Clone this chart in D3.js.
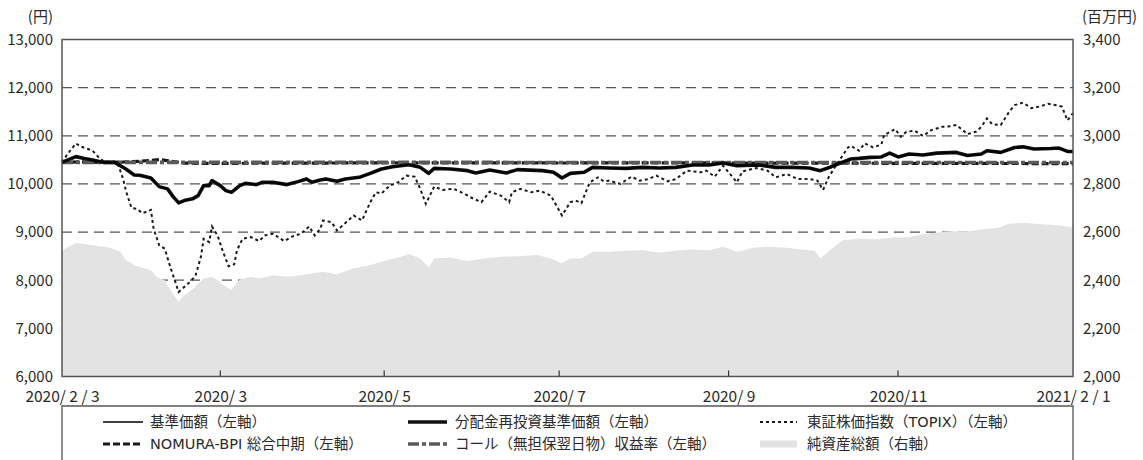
<!DOCTYPE html>
<html><head><meta charset="utf-8">
<script src="https://cdn.jsdelivr.net/npm/d3@7"></script>
<style>
html,body{margin:0;padding:0;background:#fff;}
text{font-family:"Noto Sans CJK JP","Noto Sans",sans-serif;fill:#2a2a2a;}
.lgt{font-family:"DejaVu Sans","Noto Sans CJK JP",sans-serif;}
</style></head>
<body><svg id="c" width="1143" height="460"></svg>
<script>
// ---- data ----
const leftTicks = [6000,7000,8000,9000,10000,11000,12000,13000];
const rightTicks = [2000,2200,2400,2600,2800,3000,3200,3400];
const gridValues = [7000,8000,9000,10000,11000,12000];
const xTickDates = ["2020-02-03","2020-03-31","2020-05-29","2020-07-31","2020-09-30","2020-11-30","2021-02-01"];
const xTickLabels = ["2020/ 2 / 3","2020/ 3","2020/ 5","2020/ 7","2020/ 9","2020/11","2021/ 2 / 1"];

const fundDates = ["2020-02-03","2020-02-08","2020-02-11","2020-02-14","2020-02-18","2020-02-22","2020-02-26","2020-02-29",
"2020-03-02","2020-03-06","2020-03-09","2020-03-12","2020-03-14","2020-03-16","2020-03-18","2020-03-21","2020-03-23","2020-03-25","2020-03-27","2020-03-28","2020-03-31",
"2020-04-02","2020-04-04","2020-04-07","2020-04-09","2020-04-13","2020-04-15","2020-04-19","2020-04-24","2020-04-28",
"2020-05-01","2020-05-03","2020-05-06","2020-05-08","2020-05-12","2020-05-15","2020-05-20","2020-05-24","2020-05-28",
"2020-06-01","2020-06-07","2020-06-11","2020-06-14","2020-06-16","2020-06-22","2020-06-28",
"2020-07-01","2020-07-06","2020-07-12","2020-07-16","2020-07-25","2020-07-29",
"2020-08-01","2020-08-04","2020-08-09","2020-08-12","2020-08-18","2020-08-24","2020-08-30",
"2020-09-05","2020-09-11","2020-09-17","2020-09-23","2020-09-28",
"2020-10-03","2020-10-11","2020-10-17","2020-10-23","2020-10-29",
"2020-11-02","2020-11-06","2020-11-09","2020-11-13","2020-11-16","2020-11-20","2020-11-24","2020-11-27","2020-11-30",
"2020-12-04","2020-12-09","2020-12-14","2020-12-21","2020-12-25","2020-12-30",
"2021-01-01","2021-01-06","2021-01-11","2021-01-14","2021-01-18","2021-01-24","2021-01-27","2021-01-30","2021-02-01"];
const fundValues = [10447,10567,10530,10497,10447,10447,10310,10186,
10180,10124,9944,9897,9737,9607,9654,9690,9758,9965,9965,10068,9965,
9861,9826,9965,10012,9986,10033,10033,9986,10048,
10104,10033,10083,10104,10054,10104,10137,10220,10310,
10358,10400,10344,10220,10323,10310,10276,
10228,10290,10228,10297,10276,10241,
10124,10220,10241,10344,10330,10323,10344,
10330,10344,10393,10393,10434,
10379,10393,10344,10344,10331,
10276,10358,10427,10518,10530,10552,10560,10640,10560,
10621,10600,10640,10655,10590,10621,
10690,10655,10758,10770,10724,10735,10745,10675,10675];
const reinvestValues = fundValues; // no distributions: identical to 基準価額

const topixDates = ["2020-02-03","2020-02-05","2020-02-08","2020-02-10","2020-02-14","2020-02-16","2020-02-18","2020-02-23","2020-02-25","2020-02-26","2020-02-28",
"2020-03-01","2020-03-03","2020-03-06","2020-03-07","2020-03-09","2020-03-11","2020-03-13","2020-03-16","2020-03-18","2020-03-20","2020-03-22","2020-03-24","2020-03-25","2020-03-27","2020-03-28","2020-03-30",
"2020-04-01","2020-04-03","2020-04-05","2020-04-06","2020-04-08","2020-04-11","2020-04-14","2020-04-16","2020-04-19","2020-04-23","2020-04-26","2020-04-29",
"2020-05-02","2020-05-04","2020-05-06","2020-05-07","2020-05-10","2020-05-12","2020-05-14","2020-05-18","2020-05-21","2020-05-24","2020-05-26","2020-05-28","2020-05-31",
"2020-06-03","2020-06-06","2020-06-09","2020-06-11","2020-06-13","2020-06-16","2020-06-19","2020-06-23","2020-06-27","2020-06-29",
"2020-07-03","2020-07-06","2020-07-10","2020-07-13","2020-07-14","2020-07-17","2020-07-21","2020-07-24","2020-07-28","2020-07-30",
"2020-08-01","2020-08-04","2020-08-06","2020-08-08","2020-08-11","2020-08-14","2020-08-16","2020-08-18","2020-08-22","2020-08-26","2020-08-29",
"2020-09-01","2020-09-04","2020-09-08","2020-09-11","2020-09-15","2020-09-20","2020-09-22","2020-09-25","2020-09-28",
"2020-10-01","2020-10-03","2020-10-05","2020-10-10","2020-10-14","2020-10-17","2020-10-21","2020-10-25","2020-10-29",
"2020-11-01","2020-11-03","2020-11-05","2020-11-08","2020-11-12","2020-11-13","2020-11-16","2020-11-18","2020-11-21","2020-11-24","2020-11-25","2020-11-29",
"2020-12-01","2020-12-03","2020-12-06","2020-12-09","2020-12-12","2020-12-16","2020-12-19","2020-12-21","2020-12-25","2020-12-28","2020-12-30",
"2021-01-01","2021-01-03","2021-01-06","2021-01-09","2021-01-11","2021-01-14","2021-01-17","2021-01-20","2021-01-23","2021-01-26","2021-01-28","2021-01-30","2021-02-01"];
const topixValues = [10447,10621,10840,10772,10690,10565,10468,10435,10104,9861,9503,
9482,9390,9461,9068,8723,8654,8274,7757,7860,7964,8082,8481,8861,8792,9117,8930,
8585,8289,8330,8620,8861,8896,8813,8930,8965,8813,8910,8965,
9117,8930,9068,9241,9206,9034,9137,9344,9241,9620,9827,9800,9965,
10033,10172,10150,9897,9586,9944,9876,9897,9793,9724,
9620,9841,9758,9620,9827,9897,9827,9861,9758,9551,
9344,9620,9655,9600,10033,10137,10054,10068,10000,10151,10068,
10100,10172,10054,10100,10276,10241,10276,10151,10379,
10172,10033,10262,10330,10276,10137,10206,10100,10104,
10068,9876,10137,10414,10758,10793,10690,10843,10758,10820,11015,11139,
10980,11084,11105,10995,11118,11187,11200,11225,11035,11084,11187,
11360,11235,11225,11497,11636,11690,11574,11608,11663,11636,11608,11319,11470];

const bpiDates = ["2020-02-03","2020-02-10","2020-02-18","2020-02-25","2020-03-02","2020-03-06","2020-03-09","2020-03-13","2020-03-18","2020-03-25","2020-04-10","2020-05-01","2020-06-01","2020-07-01","2020-08-01","2020-09-01","2020-10-01","2020-11-01","2020-12-01","2021-01-04","2021-02-01"];
const bpiValues = [10447,10460,10447,10455,10470,10490,10505,10475,10432,10425,10430,10432,10440,10437,10435,10437,10435,10432,10428,10425,10422];

const callDates = ["2020-02-03","2020-06-01","2020-10-01","2021-02-01"];
const callValues = [10447,10447,10446,10446];

const navDates = ["2020-02-03","2020-02-08","2020-02-14","2020-02-20","2020-02-24","2020-02-26",
"2020-03-01","2020-03-06","2020-03-08","2020-03-11","2020-03-13","2020-03-16","2020-03-18","2020-03-21","2020-03-25","2020-03-28","2020-03-30",
"2020-04-01","2020-04-04","2020-04-07","2020-04-11","2020-04-14","2020-04-19","2020-04-24","2020-04-29",
"2020-05-03","2020-05-07","2020-05-12","2020-05-18","2020-05-24","2020-05-30",
"2020-06-04","2020-06-07","2020-06-11","2020-06-14","2020-06-16","2020-06-22","2020-06-28",
"2020-07-04","2020-07-10","2020-07-16","2020-07-23","2020-07-28",
"2020-08-01","2020-08-04","2020-08-08","2020-08-12","2020-08-18","2020-08-24","2020-08-30",
"2020-09-05","2020-09-11","2020-09-17","2020-09-23","2020-09-28",
"2020-10-03","2020-10-09","2020-10-14","2020-10-21","2020-10-26","2020-10-31",
"2020-11-02","2020-11-06","2020-11-10","2020-11-16","2020-11-22","2020-11-28",
"2020-12-04","2020-12-10","2020-12-19","2020-12-25","2020-12-31",
"2021-01-05","2021-01-09","2021-01-15","2021-01-21","2021-01-27","2021-02-01"];
const navValues = [2525,2555,2545,2536,2518,2483,
2458,2442,2414,2400,2359,2310,2338,2362,2407,2414,2400,
2380,2359,2403,2414,2407,2421,2414,2421,
2428,2435,2425,2449,2463,2483,
2497,2508,2490,2453,2490,2494,2480,
2490,2497,2500,2505,2490,
2470,2490,2490,2518,2518,2522,2525,
2515,2522,2528,2525,2539,
2518,2535,2539,2535,2528,2522,
2490,2530,2566,2573,2569,2577,
2580,2593,2603,2603,2612,
2617,2635,2638,2632,2628,2619];

const legendLabels = ["基準価額（左軸）","分配金再投資基準価額（左軸）","東証株価指数（TOPIX）（左軸）","NOMURA-BPI 総合中期（左軸）","コール（無担保翌日物）収益率（左軸）","純資産総額（右軸）"];

// ---- chart ----
const parse = d3.timeParse("%Y-%m-%d");
const svg = d3.select("#c");
const L = 62, R = 1073, T = 39.5, B = 376.5;
const x = d3.scaleTime().domain([parse("2020-02-03"), parse("2021-02-01")]).range([L, R]);
const yL = d3.scaleLinear().domain([6000, 13000]).range([B, T]);
const yR = d3.scaleLinear().domain([2000, 3400]).range([B, T]);
const fmt = d3.format(",");

// gridlines
svg.append("g").selectAll("line").data(gridValues).join("line")
  .attr("x1", L).attr("x2", R).attr("y1", d => yL(d)).attr("y2", d => yL(d))
  .attr("stroke", "#555").attr("stroke-width", 1.3).attr("stroke-dasharray", "10,6");

// area
const nav = navDates.map((d, i) => ({d: parse(d), v: navValues[i]}));
svg.append("path").datum(nav)
  .attr("d", d3.area().x(p => x(p.d)).y0(B).y1(p => yR(p.v)))
  .attr("fill", "#e3e3e3");

function series(dates, vals){ return dates.map((d,i)=>({d: parse(d), v: vals[i]})); }
const lineGen = d3.line().x(p => x(p.d)).y(p => yL(p.v));

svg.append("path").datum(series(bpiDates, bpiValues)).attr("d", lineGen)
  .attr("fill","none").attr("stroke","#1a1a1a").attr("stroke-width",3.2).attr("stroke-dasharray","7,3");
svg.append("path").datum(series(callDates, callValues)).attr("d", lineGen)
  .attr("fill","none").attr("stroke","#5a5a5a").attr("stroke-width",3.6).attr("stroke-dasharray","11,3,4,3");
svg.append("path").datum(series(topixDates, topixValues)).attr("d", lineGen)
  .attr("fill","none").attr("stroke","#1a1a1a").attr("stroke-width",2).attr("stroke-dasharray","3,3");
svg.append("path").datum(series(fundDates, reinvestValues)).attr("d", lineGen)
  .attr("fill","none").attr("stroke","#111").attr("stroke-width",3.6).attr("stroke-linejoin","round");
svg.append("path").datum(series(fundDates, fundValues)).attr("d", lineGen)
  .attr("fill","none").attr("stroke","#000").attr("stroke-width",1.4);

// frame
svg.append("rect").attr("x", L).attr("y", T).attr("width", R-L).attr("height", B-T)
  .attr("fill","none").attr("stroke","#555").attr("stroke-width",1.5);

// left axis
const axL = d3.axisLeft(yL).tickValues(leftTicks).tickFormat(fmt).tickSize(0).tickPadding(9);
const gL = svg.append("g").attr("transform",`translate(${L},0)`).call(axL);
gL.select(".domain").remove();
gL.selectAll("text").attr("font-size",15).attr("fill","#2a2a2a");
// right axis
const axR = d3.axisRight(yR).tickValues(rightTicks).tickFormat(fmt).tickSize(0).tickPadding(10);
const gR = svg.append("g").attr("transform",`translate(${R},0)`).call(axR);
gR.select(".domain").remove();
gR.selectAll("text").attr("font-size",15).attr("fill","#2a2a2a");

// bottom axis
const tickDates = xTickDates.map(parse);
const axB = d3.axisBottom(x).tickValues(tickDates).tickFormat((d,i)=>xTickLabels[i]).tickSize(0).tickPadding(14);
const gB = svg.append("g").attr("transform",`translate(0,${B})`).call(axB);
gB.select(".domain").remove();
gB.selectAll("text").attr("font-size",15.5).attr("fill","#2a2a2a");
svg.append("g").selectAll("line").data(tickDates.slice(1,-1)).join("line")
  .attr("x1", d=>x(d)).attr("x2", d=>x(d)).attr("y1", B).attr("y2", B-6)
  .attr("stroke","#333").attr("stroke-width",1.2);

// unit labels
svg.append("text").attr("x", 53).attr("y", 15).attr("text-anchor","end").attr("dominant-baseline","central").attr("font-size",15).text("(円)");
svg.append("text").attr("x", 1082).attr("y", 15).attr("text-anchor","start").attr("dominant-baseline","central").attr("font-size",15).text("(百万円)");

// legend
const lg = svg.append("g");
lg.append("path").attr("d",`M${L},470 V406 H${R} V470`).attr("fill","none").attr("stroke","#555").attr("stroke-width",1.3);
const legendItems = [
  {col:0,row:0,type:"thin"},{col:1,row:0,type:"thick"},{col:2,row:0,type:"dot"},
  {col:0,row:1,type:"dash"},{col:1,row:1,type:"dashdot"},{col:2,row:1,type:"area"}];
const colX = [[103,143,150],[408,447,455],[760,797,807]];
const rowY = [422,444];
legendItems.forEach((it,i)=>{
  const [x1,x2,tx] = colX[it.col]; const yy = rowY[it.row];
  if(it.type==="area"){
    lg.append("rect").attr("x",x1).attr("y",yy-3.5).attr("width",x2-x1).attr("height",7).attr("fill","#e3e3e3");
  } else {
    const ln = lg.append("line").attr("x1",x1).attr("x2",x2).attr("y1",yy).attr("y2",yy).attr("fill","none");
    if(it.type==="thin") ln.attr("stroke","#000").attr("stroke-width",1.4);
    if(it.type==="thick") ln.attr("stroke","#111").attr("stroke-width",3.6);
    if(it.type==="dot") ln.attr("stroke","#1a1a1a").attr("stroke-width",2).attr("stroke-dasharray","3,3");
    if(it.type==="dash") ln.attr("stroke","#1a1a1a").attr("stroke-width",3.2).attr("stroke-dasharray","7,3");
    if(it.type==="dashdot") ln.attr("stroke","#5a5a5a").attr("stroke-width",3.6).attr("stroke-dasharray","11,3,4,3");
  }
  lg.append("text").attr("class","lgt").attr("x",tx).attr("y",yy).attr("dominant-baseline","central").attr("font-size",14.5).text(legendLabels[i]);
});
</script></body></html>
